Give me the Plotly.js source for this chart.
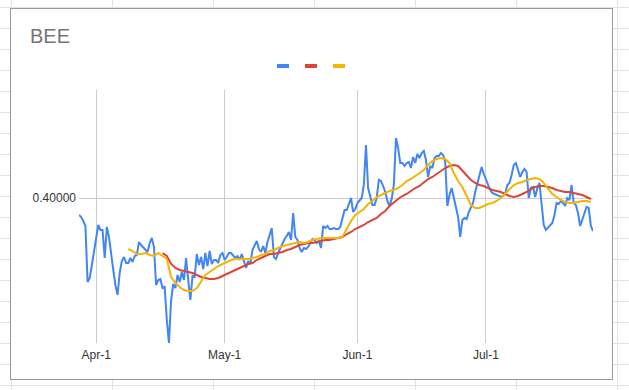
<!DOCTYPE html>
<html>
<head>
<meta charset="utf-8">
<script src="https://cdn.plot.ly/plotly-3.0.1.min.js"></script>
<style>
  html, body { margin: 0; padding: 0; }
  body {
    width: 629px; height: 390px; overflow: hidden; position: relative;
    background-color: #ffffff;
    background-image:
      linear-gradient(to right, #e2e2e2 1px, transparent 1px),
      linear-gradient(to bottom, #e2e2e2 1px, transparent 1px);
    background-size: 101px 21px;
    background-position: 11px 7px;
  }
  #box {
    position: absolute; left: 10px; top: 8px;
    width: 601px; height: 370px;
    border: 1px solid #9a9a9a; background: #ffffff;
  }
  #chart { width: 601px; height: 370px; }
</style>
</head>
<body>
<div id="box"><div id="chart"></div></div>
<script>
// ---- data ----
const seriesNames = ["BEE", "Moving average (long)", "Moving average (short)"];
const priceStart = "2021-03-28 00:00";      // 12-hour samples
const price = [
 0.383,0.381,0.377,0.372,0.316,0.320,0.333,0.348,0.359,0.373,
 0.368,0.368,0.340,0.371,0.361,0.341,0.328,0.313,0.303,0.325,
 0.337,0.341,0.335,0.335,0.340,0.336,0.342,0.343,0.356,0.353,
 0.351,0.349,0.346,0.355,0.360,0.351,0.313,0.318,0.319,0.310,
 0.311,0.278,0.255,0.298,0.314,0.310,0.323,0.316,0.326,0.318,
 0.340,0.318,0.298,0.322,0.321,0.344,0.333,0.341,0.329,0.345,
 0.332,0.347,0.334,0.338,0.338,0.335,0.343,0.345,0.338,0.341,
 0.345,0.345,0.342,0.340,0.342,0.338,0.344,0.336,0.330,0.337,
 0.334,0.348,0.353,0.357,0.349,0.346,0.352,0.345,0.356,0.362,
 0.370,0.341,0.339,0.345,0.350,0.354,0.359,0.362,0.366,0.358,
 0.385,0.361,0.358,0.350,0.346,0.350,0.349,0.351,0.355,0.359,
 0.358,0.355,0.357,0.350,0.372,0.370,0.372,0.369,0.369,0.370,
 0.369,0.369,0.371,0.380,0.388,0.388,0.395,0.400,0.386,0.389,
 0.395,0.397,0.400,0.413,0.453,0.410,0.400,0.393,0.393,0.400,
 0.418,0.417,0.412,0.406,0.397,0.392,0.399,0.413,0.460,0.450,
 0.435,0.435,0.432,0.435,0.436,0.430,0.441,0.435,0.444,0.440,
 0.445,0.447,0.438,0.421,0.432,0.430,0.440,0.442,0.442,0.445,
 0.443,0.436,0.392,0.403,0.410,0.400,0.393,0.381,0.361,0.378,
 0.380,0.379,0.386,0.390,0.395,0.406,0.415,0.425,0.431,0.424,
 0.418,0.412,0.408,0.405,0.404,0.403,0.402,0.401,0.402,0.404,
 0.413,0.415,0.423,0.433,0.435,0.428,0.421,0.426,0.429,0.426,
 0.400,0.410,0.411,0.401,0.410,0.415,0.396,0.373,0.368,0.370,
 0.373,0.375,0.383,0.395,0.394,0.397,0.395,0.392,0.400,0.398,
 0.413,0.395,0.393,0.385,0.372,0.379,0.385,0.391,0.390,0.372,
 0.367
];
const longMaStart = "2021-04-16 12:00";     // daily samples
const longMa = [
 0.345,0.342,0.334,0.330,0.328,0.327,0.326,0.325,0.323,0.321,
 0.320,0.319,0.319,0.320,0.322,0.324,0.326,0.328,0.330,0.332,
 0.334,0.335,0.338,0.340,0.342,0.344,0.344,0.345,0.346,0.348,
 0.349,0.351,0.353,0.354,0.355,0.355,0.356,0.357,0.358,0.358,
 0.359,0.360,0.361,0.364,0.366,0.369,0.371,0.373,0.376,0.378,
 0.380,0.384,0.387,0.392,0.396,0.399,0.402,0.404,0.407,0.410,
 0.412,0.416,0.419,0.421,0.424,0.427,0.430,0.432,0.433,0.432,
 0.427,0.423,0.418,0.415,0.413,0.412,0.410,0.408,0.407,0.406,
 0.404,0.402,0.401,0.402,0.404,0.406,0.409,0.411,0.412,0.412,
 0.411,0.410,0.408,0.407,0.406,0.406,0.405,0.404,0.403,0.401,
 0.399
];
const shortMaStart = "2021-04-08 12:00";    // daily samples
const shortMa = [
 0.349,0.347,0.344,0.344,0.345,0.343,0.342,0.345,0.342,0.339,
 0.321,0.315,0.311,0.308,0.307,0.307,0.310,0.317,0.323,0.326,
 0.329,0.332,0.334,0.336,0.338,0.339,0.339,0.339,0.339,0.340,
 0.341,0.343,0.344,0.347,0.348,0.350,0.352,0.353,0.354,0.355,
 0.356,0.355,0.356,0.358,0.359,0.360,0.360,0.360,0.360,0.360,
 0.361,0.369,0.377,0.383,0.386,0.389,0.394,0.397,0.401,0.403,
 0.405,0.407,0.408,0.410,0.413,0.417,0.419,0.422,0.425,0.428,
 0.433,0.437,0.439,0.440,0.439,0.435,0.425,0.417,0.411,0.402,
 0.393,0.390,0.390,0.392,0.394,0.395,0.397,0.400,0.404,0.409,
 0.413,0.415,0.416,0.418,0.419,0.420,0.419,0.415,0.409,0.404,
 0.401,0.398,0.396,0.395,0.395,0.396,0.397,0.397,0.396
];
const xRange = ["2021-03-28 00:00", "2021-07-26 00:00"];
const xTickVals = ["2021-04-01", "2021-05-01", "2021-06-01", "2021-07-01"];
const xTickText = ["Apr-1", "May-1", "Jun-1", "Jul-1"];
const yTickVals = [0.40];
const yTickText = ["0.40000"];
const yRange = [0.255, 0.508];
const colors = ["#4285F4", "#DB4437", "#F4B400"];

const HALF_DAY = 12 * 3600 * 1000;
const DAY = 24 * 3600 * 1000;
const FONT = "Liberation Sans, Arial, sans-serif";

const traces = [
  { type: "scatter", mode: "lines", name: seriesNames[0], x0: priceStart, dx: HALF_DAY, y: price,
    line: { color: colors[0], width: 2 } },
  { type: "scatter", mode: "lines", name: seriesNames[1], x0: longMaStart, dx: DAY, y: longMa,
    line: { color: colors[1], width: 2 } },
  { type: "scatter", mode: "lines", name: seriesNames[2], x0: shortMaStart, dx: DAY, y: shortMa,
    line: { color: colors[2], width: 2 } }
];

// legend swatches (Google-style, text-less)
const swatchX = [[0.3852, 0.4086], [0.4397, 0.4630], [0.4942, 0.5175]];
const shapes = swatchX.map((sx, i) => ({
  type: "rect", xref: "paper", yref: "paper",
  x0: sx[0], x1: sx[1], y0: 1.087, y1: 1.1028,
  fillcolor: colors[i], line: { width: 0 }
}));

const layout = {
  width: 601, height: 370,
  margin: { l: 68, r: 19, t: 81, b: 36 },
  paper_bgcolor: "#ffffff", plot_bgcolor: "#ffffff",
  font: { family: FONT, size: 12, color: "#333333" },
  showlegend: false,
  title: { text: "BEE", font: { family: FONT, size: 20, color: "#757575" },
           xref: "container", yref: "container", x: 0.0316, xanchor: "left",
           y: 0.926, yanchor: "middle" },
  xaxis: { type: "date", range: xRange, tickvals: xTickVals, ticktext: xTickText,
           showgrid: true, gridcolor: "#cccccc", gridwidth: 1, zeroline: false,
           showline: false, ticks: "", ticklabelstandoff: 3,
           tickfont: { size: 12, color: "#333333" } },
  yaxis: { range: yRange, tickvals: yTickVals, ticktext: yTickText,
           showgrid: true, gridcolor: "#cccccc", gridwidth: 1, zeroline: false,
           showline: false, ticks: "", ticklabelstandoff: 2,
           tickfont: { size: 12, color: "#333333" } },
  shapes: shapes
};

Plotly.newPlot("chart", traces, layout, { displayModeBar: false, staticPlot: true });
</script>
</body>
</html>
